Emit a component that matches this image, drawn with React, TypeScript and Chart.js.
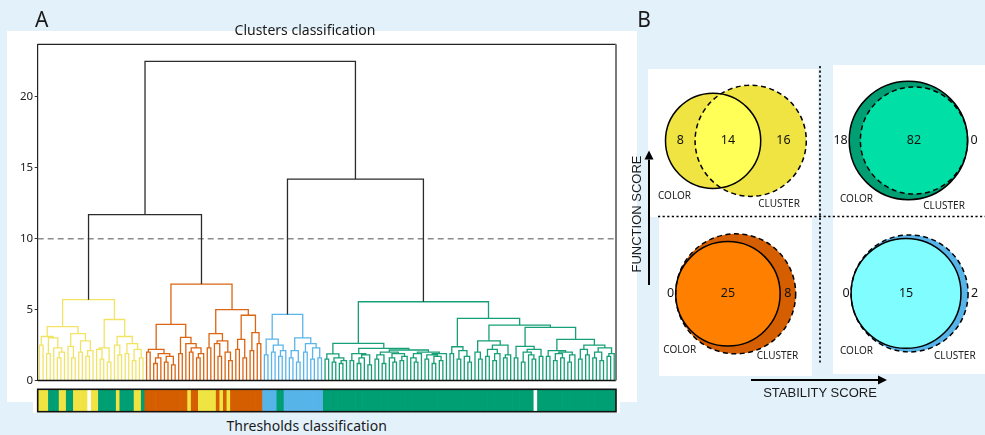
import React, { useEffect, useRef } from "react";
import { Chart, registerables } from "chart.js";
Chart.register(...registerables);

// ---------------- DATA ----------------
// dendrogram: merge height between consecutive leaves (leaf order), per cluster
const clusterNames = ["yellow", "orange", "blue", "green"];
const yellowGaps = [2.5, 3.1, 1.9, 3.0, 2.3, 1.6, 2.0, 3.8, 2.4, 1.6, 3.3, 2.0, 2.8, 1.7, 2.1, 5.7, 2.2, 1.5, 2.3, 1.3, 4.3, 2.5, 1.8, 3.1, 1.9, 2.6, 1.4, 2.2, 1.6];
const orangeGaps = [2.0, 2.2, 1.2, 1.6, 1.9, 1.3, 1.7, 1.1, 3.96, 1.9, 3.04, 2.6, 2.0, 2.3, 1.6, 1.9, 6.8, 2.3, 3.3, 2.6, 1.7, 2.8, 2.0, 1.4, 5.0, 2.2, 2.9, 1.6, 4.6, 2.1, 3.37, 2.6];
const blueGaps = [1.8, 2.92, 2.0, 2.5, 1.7, 2.1, 4.66, 1.6, 2.1, 1.3, 3.0, 2.0, 2.6, 1.5, 2.3, 1.6];
const greenGaps = [
  1.5, 1.87, 1.3, 1.6, 1.2, 1.4, 2.62,
  1.4, 1.9, 1.2, 1.6, 1.8, 1.1, 2.27,
  1.5, 1.8, 1.2, 2.0, 1.6, 1.3, 1.9, 1.4, 1.7, 2.15,
  1.6, 1.3, 1.9, 2.0, 1.5, 1.8, 1.2, 1.7, 1.4, 1.9, 5.55,
  1.9, 2.38, 1.5, 2.1, 1.7, 1.3, 4.38,
  2.0, 1.5, 2.8, 1.7, 2.2, 1.4, 1.9, 2.5, 1.6, 1.8, 3.9,
  1.6, 2.4, 1.3, 2.0, 1.8, 1.5, 2.2, 1.7, 3.75,
  1.7, 2.1, 1.4, 1.9, 1.6, 2.0, 1.3, 1.8, 2.9, 1.5, 2.2, 1.8, 2.5, 1.6, 2.0, 1.4, 2.3, 1.7, 1.9,
];
const interClusterGaps = [11.7, 22.5, 14.2]; // yellow|orange, orange|blue, blue|green
const thresholdHeight = 10;
const yTickValues = [0, 5, 10, 15, 20];
const yMax = 23.7;

// thresholds classification bar (runs of leaf colours)
const colorBarRuns: [string, number][] = [
  ["Y", 3], ["G", 3], ["Y", 2], ["G", 2], ["Y", 4], ["W", 1], ["Y", 2], ["G", 5], ["Y", 1], ["G", 4], ["Y", 2], ["G", 1],
  ["O", 12], ["Y", 1], ["O", 2], ["Y", 5], ["O", 1], ["Y", 1], ["O", 1], ["Y", 1], ["O", 9],
  ["B", 4], ["G", 2], ["B", 11],
  ["G", 59], ["W", 1], ["G", 22],
];

// Venn panels: yellow (TL), green (TR), orange (BL), blue (BR)
const vennColorOnly = [8, 18, 0, 0];
const vennBoth = [14, 82, 25, 15];
const vennClusterOnly = [16, 0, 8, 2];
const vennSetLabels = ["COLOR", "CLUSTER"];

// ---------------- STYLE / LAYOUT ----------------
const BG = "#e3f1fa";
const barPalette: Record<string, string> = { Y: "#f0e442", G: "#009e73", O: "#d55e00", B: "#56b4e9", W: "#ffffff" };
const linkColors = ["#f1e465", "#da6512", "#5ab5ea", "#179f77"];
const upperLinkColor = "#2b2b2b";
const vennStyle = [
  { cx: 731.9, cy: 140.8, maxR: 55.6, base: "#f0e442", light: "#ffff57", colorLbl: [658, 196], clusterLbl: [758.3, 204.5] },
  { cx: 911.2, cy: 140.5, maxR: 59.2, base: "#009e73", light: "#00dfa5", colorLbl: [840, 199], clusterLbl: [923.3, 206] },
  { cx: 731.8, cy: 293.8, maxR: 60, base: "#d55e00", light: "#ff8000", colorLbl: [663.3, 350], clusterLbl: [756.7, 356] },
  { cx: 907.8, cy: 293.4, maxR: 58.5, base: "#56b4e9", light: "#80fdff", colorLbl: [840, 351], clusterLbl: [934, 356] },
];

// ---------------- DERIVED ----------------
const clusterGaps = [yellowGaps, orangeGaps, blueGaps, greenGaps];
const allGaps: number[] = [];
clusterGaps.forEach((g, i) => {
  allGaps.push(...g);
  if (i < interClusterGaps.length) allGaps.push(interClusterGaps[i]);
});
const leafCluster: number[] = [];
clusterGaps.forEach((g, c) => {
  for (let i = 0; i < g.length + 1; i++) leafCluster.push(c);
});
const nLeaves = leafCluster.length;

type DNode = { x: number; h: number; c: number };
type Seg = { c: number; pts: { x: number; y: number }[] };
function buildDendrogram(): Seg[] {
  const segs: Seg[] = [];
  const build = (lo: number, hi: number): DNode => {
    if (lo === hi) return { x: lo, h: 0, c: leafCluster[lo] };
    let k = lo;
    for (let i = lo; i < hi; i++) if (allGaps[i] > allGaps[k]) k = i;
    const L = build(lo, k);
    const R = build(k + 1, hi);
    const h = allGaps[k];
    const c = L.c === R.c ? L.c : -1;
    segs.push({ c, pts: [{ x: L.x, y: L.h }, { x: L.x, y: h }, { x: R.x, y: h }, { x: R.x, y: R.h }] });
    return { x: (L.x + R.x) / 2, h, c };
  };
  build(0, nLeaves - 1);
  return segs;
}

const leafColors: string[] = [];
colorBarRuns.forEach(([code, n]) => {
  for (let i = 0; i < n; i++) leafColors.push(barPalette[code]);
});

function lensArea(r1: number, r2: number, d: number) {
  if (d >= r1 + r2) return 0;
  if (d <= Math.abs(r1 - r2)) return Math.PI * Math.min(r1, r2) ** 2;
  const a1 = Math.acos((d * d + r1 * r1 - r2 * r2) / (2 * d * r1));
  const a2 = Math.acos((d * d + r2 * r2 - r1 * r1) / (2 * d * r2));
  return r1 * r1 * a1 + r2 * r2 * a2 - 0.5 * Math.sqrt((-d + r1 + r2) * (d + r1 - r2) * (d - r1 + r2) * (d + r1 + r2));
}
function solveDistance(r1: number, r2: number, target: number) {
  let lo = Math.abs(r1 - r2);
  let hi = r1 + r2;
  if (target >= Math.PI * Math.min(r1, r2) ** 2 - 1e-6) return lo;
  for (let i = 0; i < 60; i++) {
    const mid = (lo + hi) / 2;
    if (lensArea(r1, r2, mid) > target) lo = mid;
    else hi = mid;
  }
  return (lo + hi) / 2;
}

const dendroFrame = {
  id: "dendroFrame",
  afterDatasetsDraw(chart: any) {
    const { ctx, chartArea: a } = chart;
    ctx.save();
    ctx.strokeStyle = "#222";
    ctx.lineWidth = 1.2;
    ctx.beginPath();
    ctx.moveTo(a.left, a.top);
    ctx.lineTo(a.right, a.top);
    ctx.stroke();
    ctx.lineWidth = 1.6;
    ctx.strokeStyle = "#111";
    ctx.beginPath();
    ctx.moveTo(a.left, a.bottom);
    ctx.lineTo(a.right, a.bottom);
    ctx.stroke();
    ctx.strokeStyle = "#7a7a7a";
    ctx.lineWidth = 2;
    ctx.beginPath();
    ctx.moveTo(a.right, a.top);
    ctx.lineTo(a.right, a.bottom);
    ctx.stroke();
    ctx.restore();
  },
};

const barFrame = {
  id: "barFrame",
  afterDatasetsDraw(chart: any) {
    const { ctx, chartArea: a } = chart;
    ctx.save();
    ctx.strokeStyle = "#111";
    ctx.lineWidth = 1.6;
    ctx.strokeRect(a.left, a.top, a.right - a.left, a.bottom - a.top);
    ctx.restore();
  },
};

function drawArrow(ctx: CanvasRenderingContext2D, x1: number, y1: number, x2: number, y2: number) {
  const ang = Math.atan2(y2 - y1, x2 - x1);
  const hl = 9, hw = 4.5;
  ctx.beginPath();
  ctx.moveTo(x1, y1);
  ctx.lineTo(x2 - Math.cos(ang) * hl, y2 - Math.sin(ang) * hl);
  ctx.lineWidth = 2;
  ctx.strokeStyle = "#000";
  ctx.stroke();
  ctx.beginPath();
  ctx.moveTo(x2, y2);
  ctx.lineTo(x2 - Math.cos(ang) * hl - Math.sin(ang) * hw, y2 - Math.sin(ang) * hl + Math.cos(ang) * hw);
  ctx.lineTo(x2 - Math.cos(ang) * hl + Math.sin(ang) * hw, y2 - Math.sin(ang) * hl - Math.cos(ang) * hw);
  ctx.closePath();
  ctx.fillStyle = "#000";
  ctx.fill();
}

const vennPlugin = {
  id: "venn",
  afterDatasetsDraw(chart: any) {
    const { ctx } = chart;
    const xs = chart.scales.x;
    const ys = chart.scales.y;
    const X = (v: number) => xs.getPixelForValue(v);
    const Y = (v: number) => ys.getPixelForValue(v);
    const k = Math.abs(X(1) - X(0));
    ctx.save();
    // dotted quadrant dividers
    ctx.strokeStyle = "#000";
    ctx.lineWidth = 1.6;
    ctx.setLineDash([2.2, 2.4]);
    ctx.beginPath();
    ctx.moveTo(X(820), Y(66));
    ctx.lineTo(X(820), Y(365));
    ctx.moveTo(X(658), Y(216.5));
    ctx.lineTo(X(985), Y(216.5));
    ctx.stroke();
    ctx.setLineDash([]);
    drawArrow(ctx, X(649), Y(285), X(649), Y(150.5));
    drawArrow(ctx, X(751), Y(380), X(887), Y(380));

    vennStyle.forEach((st, i) => {
      const colorTotal = vennColorOnly[i] + vennBoth[i];
      const clusterTotal = vennBoth[i] + vennClusterOnly[i];
      const big = Math.max(colorTotal, clusterTotal);
      const rA = st.maxR * Math.sqrt(colorTotal / big);
      const rB = st.maxR * Math.sqrt(clusterTotal / big);
      const target = (vennBoth[i] * Math.PI * rA * rA) / colorTotal;
      const d = solveDistance(rA, rB, target);
      const xA = st.cx - d / 2;
      const xB = st.cx + d / 2;
      const cy = Y(st.cy);
      const pA = X(xA), pB = X(xB), RA = rA * k, RB = rB * k;
      const circ = (x: number, r: number) => {
        ctx.beginPath();
        ctx.arc(x, cy, r, 0, Math.PI * 2);
      };
      ctx.fillStyle = st.base;
      circ(pA, RA); ctx.fill();
      circ(pB, RB); ctx.fill();
      ctx.save();
      circ(pA, RA); ctx.clip();
      ctx.fillStyle = st.light;
      circ(pB, RB); ctx.fill();
      ctx.restore();
      ctx.strokeStyle = "#000";
      ctx.lineWidth = 1.5;
      circ(pA, RA); ctx.stroke();
      ctx.setLineDash([5, 3.5]);
      circ(pB, RB); ctx.stroke();
      ctx.setLineDash([]);

      // numbers
      ctx.fillStyle = "#111";
      ctx.font = "12.5px 'Noto Sans'";
      ctx.textBaseline = "middle";
      const aL = pA - RA, bL = pB - RB, aR = pA + RA, bR = pB + RB;
      if (bL - aL > 13) { ctx.textAlign = "center"; ctx.fillText(String(vennColorOnly[i]), (aL + bL) / 2, cy); }
      else { ctx.textAlign = "right"; ctx.fillText(String(vennColorOnly[i]), Math.min(aL, bL) - 1.5, cy); }
      ctx.textAlign = "center";
      ctx.fillText(String(vennBoth[i]), (Math.max(aL, bL) + Math.min(aR, bR)) / 2, cy);
      if (bR - aR > 13) { ctx.textAlign = "center"; ctx.fillText(String(vennClusterOnly[i]), (aR + bR) / 2, cy); }
      else { ctx.textAlign = "left"; ctx.fillText(String(vennClusterOnly[i]), Math.max(aR, bR) + 3, cy); }

      ctx.font = "10px 'Noto Sans'";
      ctx.fillStyle = "#222";
      ctx.textAlign = "left";
      ctx.fillText(vennSetLabels[0], X(st.colorLbl[0]), Y(st.colorLbl[1]));
      ctx.fillText(vennSetLabels[1], X(st.clusterLbl[0]), Y(st.clusterLbl[1]));
    });
    ctx.restore();
  },
};

const Label = (p: { x: number; y: number; size: number; family?: string; rotate?: number; children: any }) => (
  <div
    style={{
      position: "absolute",
      left: p.x,
      top: p.y,
      transform: `translate(-50%,-50%)${p.rotate ? ` rotate(${p.rotate}deg)` : ""}`,
      fontSize: p.size,
      fontFamily: p.family || "'Noto Sans'",
      lineHeight: 1,
      whiteSpace: "nowrap",
      color: "#1a1a1a",
    }}
  >
    {p.children}
  </div>
);

const box = (l: number, t: number, r: number, b: number) => (
  <div style={{ position: "absolute", left: l, top: t, width: r - l, height: b - t, background: "#fff" }} />
);

export default function App() {
  const dendroRef = useRef<HTMLCanvasElement>(null);
  const barRef = useRef<HTMLCanvasElement>(null);
  const vennRef = useRef<HTMLCanvasElement>(null);

  useEffect(() => {
    document.body.style.margin = "0";
    const charts: Chart[] = [];
    const segs = buildDendrogram();
    const groups = [-1, 0, 1, 2, 3];
    const linkDatasets = groups.map((c) => {
      const data: any[] = [];
      segs.filter((s) => s.c === c).forEach((s) => {
        data.push(...s.pts);
        data.push({ x: s.pts[3].x, y: null });
      });
      return {
        label: c < 0 ? "upper" : clusterNames[c],
        data,
        showLine: true,
        spanGaps: false,
        pointRadius: 0,
        borderWidth: 1.3,
        borderColor: c < 0 ? upperLinkColor : linkColors[c],
        borderCapStyle: "butt",
        borderJoinStyle: "miter",
      };
    });
    const thresholdDs = {
      label: "threshold",
      data: [{ x: -0.5, y: thresholdHeight }, { x: nLeaves - 0.5, y: thresholdHeight }],
      showLine: true,
      pointRadius: 0,
      borderWidth: 1.5,
      borderColor: "#8c8c8c",
      borderDash: [6, 4],
    };
    charts.push(
      new Chart(dendroRef.current!, {
        type: "scatter",
        data: { datasets: [...linkDatasets, thresholdDs] as any },
        options: {
          animation: false,
          responsive: false,
          events: [],
          layout: { padding: { top: 44.3, right: 24, bottom: 9.5, left: 0 } },
          plugins: { legend: { display: false }, tooltip: { enabled: false } },
          scales: {
            x: { type: "linear", min: -0.5, max: nLeaves - 0.5, display: false },
            y: {
              type: "linear",
              min: 0,
              max: yMax,
              afterBuildTicks: (s: any) => {
                s.ticks = yTickValues.map((v) => ({ value: v }));
              },
              afterFit: (s: any) => {
                s.width = 37.7;
                s.paddingTop = 0;
                s.paddingBottom = 0;
              },
              grid: { drawOnChartArea: false, tickLength: 3, color: "#333", tickWidth: 1 },
              border: { display: true, color: "#222", width: 1.2 },
              ticks: { color: "#222", font: { family: "'Noto Sans'", size: 11.5 }, padding: 1.5 },
            },
          },
        } as any,
        plugins: [dendroFrame],
      })
    );

    charts.push(
      new Chart(barRef.current!, {
        type: "bar",
        data: {
          labels: leafColors.map((_, i) => String(i)),
          datasets: [
            {
              label: "thresholds",
              data: leafColors.map(() => 1),
              backgroundColor: leafColors,
              borderWidth: 0,
              barPercentage: 1,
              categoryPercentage: 1,
            },
          ],
        },
        options: {
          animation: false,
          responsive: false,
          events: [],
          layout: { padding: { left: 37.7, right: 24, top: 4.3, bottom: 3.3 } },
          plugins: { legend: { display: false }, tooltip: { enabled: false } },
          scales: { x: { display: false }, y: { display: false, min: 0, max: 1 } },
        } as any,
        plugins: [barFrame],
      })
    );

    charts.push(
      new Chart(vennRef.current!, {
        type: "scatter",
        data: { datasets: [{ label: "venn", data: [], pointRadius: 0 }] },
        options: {
          animation: false,
          responsive: false,
          events: [],
          layout: { padding: 0 },
          plugins: { legend: { display: false }, tooltip: { enabled: false } },
          scales: {
            x: { type: "linear", min: 640, max: 985, display: false },
            y: { type: "linear", min: 0, max: 435, reverse: true, display: false },
          },
        } as any,
        plugins: [vennPlugin],
      })
    );
    return () => charts.forEach((c) => c.destroy());
  }, []);

  return (
    <div style={{ position: "fixed", left: 0, top: 0, width: 985, height: 435, background: BG, overflow: "hidden" }}>
      {box(7.3, 31, 637, 401.7)}
      {box(33.3, 401, 620, 413.3)}
      {box(648, 69, 818, 216.5)}
      {box(659, 216.5, 811.7, 375.7)}
      {box(833.3, 65, 985, 374.3)}
      <canvas ref={barRef} width={640} height={30} style={{ position: "absolute", left: 0, top: 385 }} />
      <canvas ref={dendroRef} width={640} height={390} style={{ position: "absolute", left: 0, top: 0 }} />
      <canvas ref={vennRef} width={345} height={435} style={{ position: "absolute", left: 640, top: 0 }} />
      <Label x={41.7} y={19} size={21}>A</Label>
      <Label x={644} y={19} size={21}>B</Label>
      <Label x={305} y={29.6} size={14}>Clusters classification</Label>
      <Label x={306.7} y={425.5} size={14}>Thresholds classification</Label>
      <Label x={636} y={214} size={13} family="'Liberation Sans'" rotate={-90}>FUNCTION SCORE</Label>
      <Label x={820} y={392.3} size={13} family="'Liberation Sans'">STABILITY SCORE</Label>
    </div>
  );
}
